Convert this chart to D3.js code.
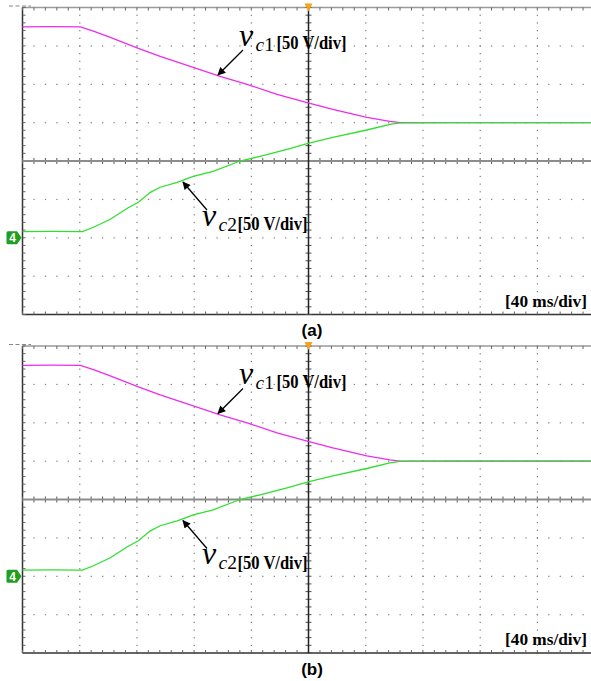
<!DOCTYPE html>
<html>
<head>
<meta charset="utf-8">
<script src="https://cdn.jsdelivr.net/npm/d3@7/dist/d3.min.js"></script>
<style>
  html, body { margin: 0; padding: 0; background: #fff; }
  svg { display: block; }
</style>
</head>
<body>
<svg id="chart" width="591" height="681"></svg>
<script>
// Capacitor voltages during balancing, 40 ms/div and 50 V/div (screen centre = 0 V)
const vc1Time = [0, 20, 40.5, 49.6, 61.4, 81, 96.3, 119.4, 138.2, 157, 178, 199.7, 217, 240.8, 256.9, 264, 300, 350, 400];
const vc1Volt = [174.8, 175.2, 174.8, 169.3, 161.1, 146.7, 136.3, 122, 110.3, 99.9, 86.8, 75.8, 67.3, 56.9, 51.7, 50, 50, 50, 50];
const vc2Time = [0, 20, 41.9, 49.6, 61.4, 73.3, 81, 89.4, 96.3, 108.2, 119.4, 133.3, 152.2, 166.1, 185, 199.7, 217, 240.8, 256.9, 264, 300, 350, 400];
const vc2Volt = [-91.9, -91.6, -91.9, -86.3, -75.9, -61.6, -53.8, -40.8, -34.2, -27.7, -19.9, -13.4, 0, 6.1, 15.2, 23, 30.9, 40.4, 47.8, 49.6, 50, 50, 50];

const panelNames = ["(a)", "(b)"];
const timeDomain = [0, 400];     // ms, 10 divisions
const voltDomain = [-200, 200];  // V, 8 divisions
const timeDiv = 40, voltDiv = 50, minorPerDiv = 5;

const svg = d3.select("#chart");
const serif = "'Liberation Serif', 'Times New Roman', serif";
const sans = "'Liberation Sans', Arial, sans-serif";

svg.append("defs").append("marker")
  .attr("id", "arrowHead")
  .attr("viewBox", "0 0 10 10")
  .attr("refX", 9).attr("refY", 5)
  .attr("markerWidth", 10).attr("markerHeight", 8)
  .attr("markerUnits", "userSpaceOnUse")
  .attr("orient", "auto")
  .append("path").attr("d", "M0,0 L10,5 L0,10 Z").attr("fill", "#000");

const left = 22.5, right = 594.5;
const panelTop = [7.5, 346], panelH = 307;

panelNames.forEach((name, i) => {
  const top = panelTop[i], bottom = top + panelH;
  const x = d3.scaleLinear().domain(timeDomain).range([left, right]);
  const y = d3.scaleLinear().domain(voltDomain).range([bottom, top]);
  const g = svg.append("g");

  const majorT = d3.range(timeDomain[0], timeDomain[1] + 1e-6, timeDiv);
  const majorV = d3.range(voltDomain[0], voltDomain[1] + 1e-6, voltDiv);
  const minorT = d3.range(timeDomain[0], timeDomain[1] + 1e-6, timeDiv / minorPerDiv);
  const minorV = d3.range(voltDomain[0], voltDomain[1] + 1e-6, voltDiv / minorPerDiv);

  // dotted graticule: a dot at every minor step along each major line
  const dots = g.append("g").attr("fill", "#7a7a7a");
  majorT.slice(1, -1).forEach(t => {
    if (t === 200) return;
    minorV.forEach(v => dots.append("rect")
      .attr("x", x(t) - 0.5).attr("y", y(v) - 0.5).attr("width", 1.2).attr("height", 1.2));
  });
  majorV.slice(1, -1).forEach(v => {
    if (v === 0) return;
    minorT.forEach(t => dots.append("rect")
      .attr("x", x(t) - 0.5).attr("y", y(v) - 0.5).attr("width", 1.2).attr("height", 1.2));
  });

  // frame
  g.append("line").attr("x1", left).attr("x2", right).attr("y1", top).attr("y2", top)
    .attr("stroke", "#9a9a9a").attr("stroke-width", 1.5);
  g.append("line").attr("x1", left).attr("x2", right).attr("y1", bottom).attr("y2", bottom)
    .attr("stroke", "#333").attr("stroke-width", 1.5);
  g.append("line").attr("x1", left).attr("x2", left).attr("y1", top).attr("y2", bottom)
    .attr("stroke", "#333").attr("stroke-width", 1.5);

  // minor ticks on the frame
  const ticks = g.append("g").attr("stroke", "#666").attr("stroke-width", 1);
  minorT.forEach(t => {
    ticks.append("line").attr("x1", x(t)).attr("x2", x(t)).attr("y1", top).attr("y2", top + 3);
    ticks.append("line").attr("x1", x(t)).attr("x2", x(t)).attr("y1", bottom).attr("y2", bottom - 3);
  });
  minorV.forEach(v => {
    ticks.append("line").attr("x1", left).attr("x2", left + 3).attr("y1", y(v)).attr("y2", y(v));
  });

  // centre axes with minor ticks
  g.append("line").attr("x1", left).attr("x2", right).attr("y1", y(0)).attr("y2", y(0))
    .attr("stroke", "#8c8c8c").attr("stroke-width", 2);
  g.append("line").attr("x1", x(200)).attr("x2", x(200)).attr("y1", top).attr("y2", bottom)
    .attr("stroke", "#222").attr("stroke-width", 1.5);
  minorT.forEach(t => {
    ticks.append("line").attr("x1", x(t)).attr("x2", x(t)).attr("y1", y(0) - 3).attr("y2", y(0) + 3)
      .attr("stroke", "#555");
  });
  minorV.forEach(v => {
    ticks.append("line").attr("x1", x(200) - 3).attr("x2", x(200) + 3).attr("y1", y(v)).attr("y2", y(v))
      .attr("stroke", "#555");
  });

  // offset marker at top-left and trigger marker at top centre
  g.append("line").attr("x1", 9).attr("x2", 31).attr("y1", top - 1.5).attr("y2", top - 1.5)
    .attr("stroke", "#888").attr("stroke-width", 1.2).attr("stroke-dasharray", "4,2.5");
  g.append("path")
    .attr("d", `M${x(200) - 4},${top - 4} L${x(200) + 4},${top - 4} L${x(200)},${top + 4} Z`)
    .attr("fill", "#f5a31a");

  // channel 4 ground marker
  const gy = y(-100);
  g.append("path")
    .attr("d", `M8,${gy - 6.5} L17,${gy - 6.5} L21.5,${gy} L17,${gy + 6.5} L8,${gy + 6.5} Q6.5,${gy + 6.5} 6.5,${gy + 5} L6.5,${gy - 5} Q6.5,${gy - 6.5} 8,${gy - 6.5} Z`)
    .attr("fill", "#1f9e1f");
  g.append("text").attr("x", 12.5).attr("y", gy + 4.5).attr("text-anchor", "middle")
    .attr("font-family", sans).attr("font-weight", "bold").attr("font-size", 12)
    .attr("fill", "#fff").text("4");

  // traces
  const line = d3.line().x(d => x(d[0])).y(d => y(d[1]));
  g.append("path").datum(d3.zip(vc1Time, vc1Volt)).attr("d", line)
    .attr("fill", "none").attr("stroke", "#ee2bee").attr("stroke-width", 1.3);
  g.append("path").datum(d3.zip(vc2Time, vc2Volt)).attr("d", line)
    .attr("fill", "none").attr("stroke", "#2fe02f").attr("stroke-width", 1.3);

  // annotations
  g.append("line").attr("x1", x(154.2)).attr("y1", y(144.6)).attr("x2", x(136.7)).attr("y2", y(112))
    .attr("stroke", "#000").attr("stroke-width", 1.3).attr("marker-end", "url(#arrowHead)");
  g.append("line").attr("x1", x(129)).attr("y1", y(-63.8)).attr("x2", x(112.2)).attr("y2", y(-27.4))
    .attr("stroke", "#000").attr("stroke-width", 1.3).attr("marker-end", "url(#arrowHead)");

  function voltLabel(vx, vy, sub, bx, by) {
    const t = g.append("text").attr("font-family", serif).attr("fill", "#000");
    t.append("tspan").attr("x", vx).attr("y", vy).attr("font-style", "italic").attr("font-size", 32).text("v");
    t.append("tspan").attr("x", vx + 16.5).attr("y", vy + 5).attr("font-style", "italic").attr("font-size", 19.5).text("c");
    t.append("tspan").attr("font-size", 19.5).text(sub);
    g.append("text").attr("font-family", serif).attr("fill", "#000")
      .attr("x", bx).attr("y", by).attr("font-weight", "bold").attr("font-size", 18)
      .attr("textLength", 70).attr("lengthAdjust", "spacingAndGlyphs").text("[50 V/div]");
  }
  voltLabel(239, top + 38, "1", 276.5, top + 41.5);
  voltLabel(202, top + 218, "2", 237.5, top + 222.5);

  g.append("text").attr("x", 505).attr("y", bottom - 7.8)
    .attr("font-family", serif).attr("font-weight", "bold").attr("font-size", 17.5)
    .attr("textLength", 82).attr("lengthAdjust", "spacingAndGlyphs").text("[40 ms/div]");

  g.append("text").attr("x", 312).attr("y", bottom + 21.5).attr("text-anchor", "middle")
    .attr("font-family", sans).attr("font-weight", "bold").attr("font-size", 17).text(name);
});
</script>
</body>
</html>
